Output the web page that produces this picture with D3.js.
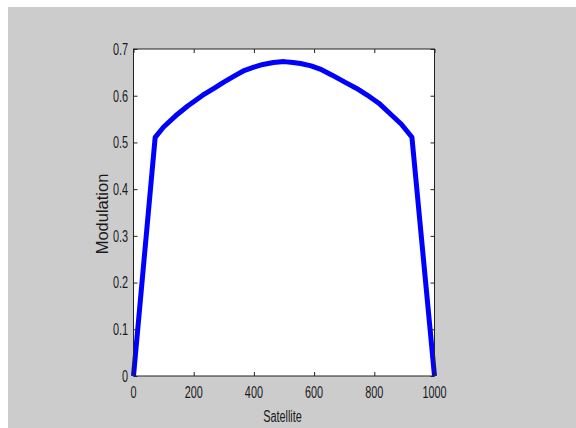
<!DOCTYPE html>
<html>
<head>
<meta charset="utf-8">
<script src="https://cdn.jsdelivr.net/npm/d3@7"></script>
<style>
  html, body { margin: 0; padding: 0; background: #ffffff; }
  svg { display: block; }
  text { font-family: "Liberation Sans", Arial, sans-serif; fill: #1a1a1a; }
</style>
</head>
<body>
<svg id="chart" width="576" height="428"></svg>
<script>
// Modulation measured along the satellite index
const satellite = [0, 72, 100, 140, 180, 230, 270, 300, 340, 365, 400, 430, 465, 500,
                   530, 555, 590, 620, 660, 705, 740, 775, 815, 850, 890, 925, 1000];
const modulation = [0, 0.511, 0.533, 0.557, 0.578, 0.601, 0.617, 0.629, 0.644, 0.653, 0.661, 0.667, 0.671, 0.673,
                    0.671, 0.669, 0.664, 0.657, 0.644, 0.628, 0.616, 0.602, 0.584, 0.563, 0.539, 0.511, 0];

const xTicks = [0, 200, 400, 600, 800, 1000];
const yTicks = [0, 0.1, 0.2, 0.3, 0.4, 0.5, 0.6, 0.7];
const xLabel = "Satellite";
const yLabel = "Modulation";

const svg = d3.select("#chart");

// figure background
svg.append("rect")
  .attr("x", 8).attr("y", 7)
  .attr("width", 568).attr("height", 421)
  .attr("fill", "#cccccc");

const plot = { left: 133.5, right: 434.5, top: 49, bottom: 376 };

const x = d3.scaleLinear().domain([0, 1000]).range([plot.left, plot.right]);
const y = d3.scaleLinear().domain([0, 0.7]).range([plot.bottom, plot.top]);

// axes background
svg.append("rect")
  .attr("x", plot.left).attr("y", plot.top)
  .attr("width", plot.right - plot.left)
  .attr("height", plot.bottom - plot.top)
  .attr("fill", "#ffffff");

// data line
const line = d3.line()
  .x((d, i) => x(satellite[i]))
  .y(d => y(d));

svg.append("path")
  .datum(modulation)
  .attr("d", line)
  .attr("fill", "none")
  .attr("stroke", "#0000ff")
  .attr("stroke-width", 5)
  .attr("stroke-linejoin", "round")
  .attr("stroke-linecap", "butt");

const tickLen = 4;
const squeeze = 0.68;
const fs = 16;

// box axes with inward ticks on all four sides
const axisStyle = g => {
  g.select(".domain").remove();
  g.selectAll(".tick line").attr("stroke", "#222").attr("stroke-width", 1);
  g.selectAll(".tick text").remove();
};

svg.append("g")
  .attr("transform", `translate(0,${plot.bottom})`)
  .call(d3.axisBottom(x).tickValues(xTicks).tickSizeInner(-tickLen).tickSizeOuter(0))
  .call(axisStyle);
svg.append("g")
  .attr("transform", `translate(0,${plot.top})`)
  .call(d3.axisTop(x).tickValues(xTicks).tickSizeInner(-tickLen).tickSizeOuter(0))
  .call(axisStyle);
svg.append("g")
  .attr("transform", `translate(${plot.left},0)`)
  .call(d3.axisLeft(y).tickValues(yTicks).tickSizeInner(-tickLen).tickSizeOuter(0))
  .call(axisStyle);
svg.append("g")
  .attr("transform", `translate(${plot.right},0)`)
  .call(d3.axisRight(y).tickValues(yTicks).tickSizeInner(-tickLen).tickSizeOuter(0))
  .call(axisStyle);

// frame
svg.append("rect")
  .attr("x", plot.left).attr("y", plot.top)
  .attr("width", plot.right - plot.left)
  .attr("height", plot.bottom - plot.top)
  .attr("fill", "none")
  .attr("stroke", "#222")
  .attr("stroke-width", 1);

// tick labels (narrow glyphs)
const fmtY = d => d === 0 ? "0" : d3.format(".1f")(d);

svg.append("g").selectAll("text")
  .data(xTicks)
  .join("text")
  .attr("transform", d => `translate(${x(d)},${plot.bottom + 21.5}) scale(${squeeze},1)`)
  .attr("text-anchor", "middle")
  .attr("font-size", fs)
  .text(d => d);

svg.append("g").selectAll("text")
  .data(yTicks)
  .join("text")
  .attr("transform", d => `translate(${plot.left - 5.5},${y(d) + 5.8}) scale(${squeeze},1)`)
  .attr("text-anchor", "end")
  .attr("font-size", fs)
  .text(fmtY);

// axis titles
svg.append("text")
  .attr("transform", `translate(${(plot.left + plot.right) / 2 - 1.5},421.5) scale(${squeeze},1)`)
  .attr("text-anchor", "middle")
  .attr("font-size", fs)
  .text(xLabel);

svg.append("text")
  .attr("transform", `translate(107.5,${(plot.top + plot.bottom) / 2 + 1.5}) rotate(-90)`)
  .attr("text-anchor", "middle")
  .attr("font-size", 16.5)
  .text(yLabel);
</script>
</body>
</html>
